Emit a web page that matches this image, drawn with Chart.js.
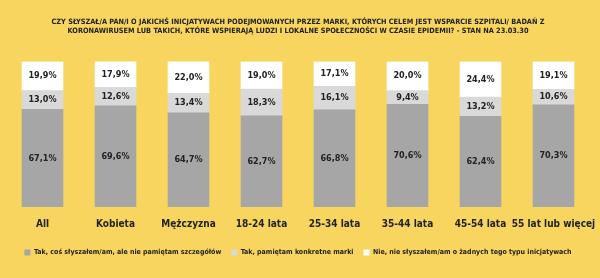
<!DOCTYPE html>
<html>
<head>
<meta charset="utf-8">
<script src="https://cdn.jsdelivr.net/npm/chart.js@4"></script>
<style>
  html, body { margin: 0; padding: 0; background: #F8D55E; }
  #wrap { width: 600px; height: 278px; }
</style>
</head>
<body>
<div id="wrap"><canvas id="chart"></canvas></div>
<script>
// data
const categories = ['All', 'Kobieta', 'Mężczyzna', '18-24 lata', '25-34 lata', '35-44 lata', '45-54 lata', '55 lat lub więcej'];
const seriesNames = [
    'Tak, coś słyszałem/am, ale nie pamiętam szczegółów',
    'Tak, pamiętam konkretne marki',
    'Nie, nie słyszałem/am o żadnych tego typu inicjatywach'
];
const notRemember = [67.1, 69.6, 64.7, 62.7, 66.8, 70.6, 62.4, 70.3];
const rememberBrands = [13.0, 12.6, 13.4, 18.3, 16.1, 9.4, 13.2, 10.6];
const notHeard = [19.9, 17.9, 22.0, 19.0, 17.1, 20.0, 24.4, 19.1];
const colors = ['#A6A6A6', '#D9D9D9', '#FFFFFF'];

const titleLines = [
    'CZY SŁYSZAŁ/A PAN/I O JAKICHŚ INICJATYWACH PODEJMOWANYCH PRZEZ MARKI, KTÓRYCH CELEM JEST WSPARCIE SZPITALI/ BADAŃ Z',
    'KORONAWIRUSEM LUB TAKICH, KTÓRE WSPIERAJĄ LUDZI I LOKALNE SPOŁECZNOŚCI W CZASIE EPIDEMII? - STAN NA 23.03.30'
];

const FONT = '"Liberation Sans Narrow", "DejaVu Sans Condensed", sans-serif';

// values inside bars
const barLabels = {
    id: 'barLabels',
    afterDatasetsDraw(chart) {
        const ctx = chart.ctx;
        ctx.save();
        ctx.font = 'bold 9px ' + FONT;
        ctx.fillStyle = '#222';
        ctx.textAlign = 'center';
        ctx.textBaseline = 'middle';
        chart.data.datasets.forEach(function (ds, i) {
            chart.getDatasetMeta(i).data.forEach(function (bar, j) {
                let mid = (bar.y + bar.base) / 2;
                ctx.fillText(ds.data[j].toFixed(1).replace('.', ',') + '%', bar.x, mid);
            });
        });
        ctx.restore();
    }
};

const chart = new Chart(document.getElementById('chart'), {
    type: 'bar',
    data: {
        labels: categories,
        datasets: [
            { label: seriesNames[0], data: notRemember, backgroundColor: colors[0] },
            { label: seriesNames[1], data: rememberBrands, backgroundColor: colors[1] },
            { label: seriesNames[2], data: notHeard, backgroundColor: colors[2] }
        ]
    },
    options: {
        responsive: true,
        maintainAspectRatio: false,
        animation: false,
        layout: { padding: { left: 6, right: 10, top: 0, bottom: 12 } },
        datasets: { bar: { barThickness: 41 } },
        scales: {
            x: {
                stacked: true,
                grid: { display: false },
                border: { display: false },
                ticks: {
                    color: '#222',
                    font: { family: FONT, size: 10, weight: 'bold' },
                    padding: 3,
                    maxRotation: 0,
                    autoSkip: false
                },
                // extra room between labels and legend
                afterFit: function (scale) {
                    scale.height += 6;
                }
            },
            y: {
                stacked: true,
                min: 0,
                max: 100,
                display: false
            }
        },
        plugins: {
            title: {
                display: true,
                text: titleLines,
                color: '#222',
                font: { family: FONT, size: 7.3, weight: 'bold' },
                lineHeight: 1.65,
                padding: { top: 18, bottom: 26 }
            },
            legend: {
                position: 'bottom',
                labels: {
                    color: '#222',
                    font: { family: FONT, size: 7, weight: 'bold' },
                    boxWidth: 6,
                    boxHeight: 6,
                    padding: 10
                }
            },
            tooltip: { enabled: false }
        }
    },
    plugins: [barLabels]
});
</script>
</body>
</html>
